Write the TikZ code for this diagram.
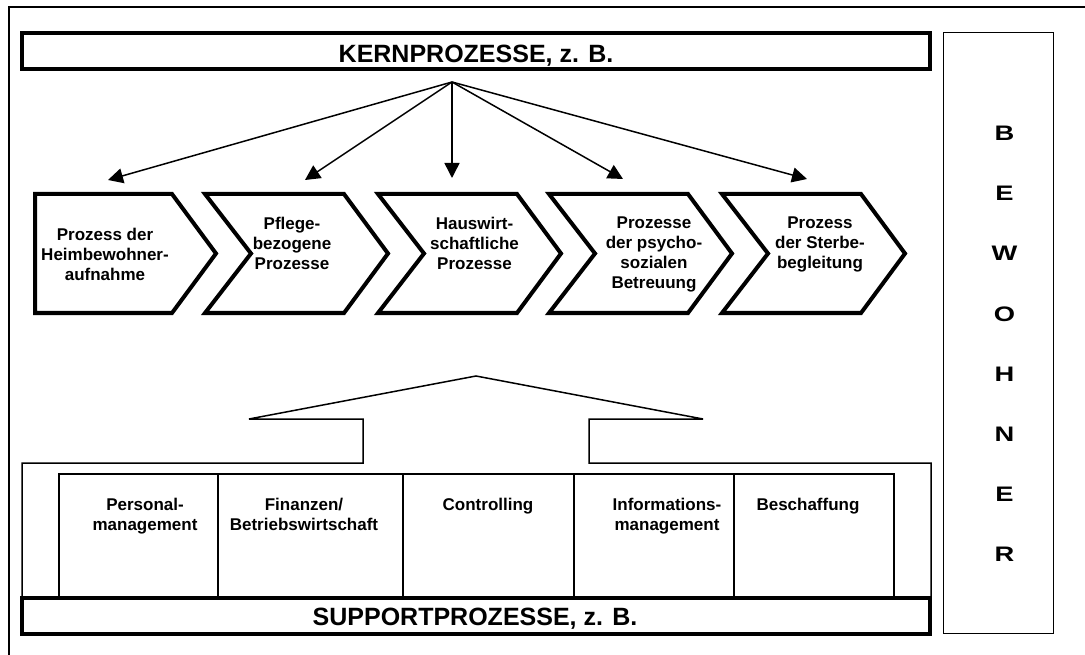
\documentclass[tikz,border=0pt]{standalone}
\usepackage{fontspec}
\setmainfont{Liberation Sans}
\usetikzlibrary{arrows.meta}
\begin{document}
\begin{tikzpicture}[x=1pt,y=-1pt,
  thinline/.style={line width=1.5pt},
  thickline/.style={line width=4pt, line join=miter},
  bar/.style={draw, thickline, fill=white, minimum width=908pt, minimum height=36pt, inner sep=0pt},
  cell/.style={draw, thinline, minimum height=124pt, inner sep=0pt},
  feed/.style={line width=1.5pt, -{Triangle[length=15pt,width=15pt]}},
  proc/.style={font=\bfseries\fontsize{17}{20}\selectfont, align=center, inner sep=0pt, anchor=north},
  heading/.style={font=\bfseries\fontsize{25}{30}\selectfont, inner sep=0pt, anchor=base},
  letter/.style={font=\bfseries\fontsize{21}{24}\selectfont, inner sep=0pt, anchor=base},
]
\useasboundingbox (0,0) rectangle (1085,655);
% page frame (top and left edges)
\draw[thinline] (9,655) -- (9,7) -- (1085,7);

% core processes bar
\node[bar] (kern) at (476,51) {};
\node[heading] (kerntext) at (476,63) {KERNPROZESSE, z. B.};

% residents column
\node[draw, thinline, minimum width=110pt, minimum height=601pt, inner sep=0pt] (bew) at (998.5,333) {};
\foreach \l [count=\i] in {B,E,W,O,H,N,E,R}
  \node[letter] (bw\i) at (1004.5,81+60*\i) {\scalebox{1.3}[1]{\l}};

% process chevrons
\draw[thickline] (35,194) -- (172,194) -- (216,253.5) -- (172,313) -- (35,313) -- cycle;
\foreach \xl in {205,378,549,722}
  \draw[thickline] (\xl,194) -- (\xl+139,194) -- (\xl+183,253.5) -- (\xl+139,313)
                   -- (\xl,313) -- (\xl+46,253.5) -- cycle;

\node[proc] (p1) at (105,226) {\strut Prozess der\\Heimbewohner-\\aufnahme};
\node[proc] (p2) at (292,215) {\strut Pflege-\\bezogene\\Prozesse};
\node[proc] (p3) at (474.5,215) {\strut Hauswirt-\\schaftliche\\Prozesse};
\node[proc] (p4) at (654,214) {\strut Prozesse\\der psycho-\\sozialen\\Betreuung};
\node[proc] (p5) at (820,214) {\strut Prozess\\der Sterbe-\\begleitung};

% arrows fanning out from the core bar
\coordinate (src) at (452,82);
\coordinate (t1) at (108,180);
\coordinate (t2) at (305,180);
\coordinate (t3) at (452,178);
\coordinate (t4) at (623,179);
\coordinate (t5) at (807,179);
\foreach \i in {1,...,5}
  \draw[feed] (src) -- (t\i);

% support block with upward arrow outline
\draw[thinline, line join=miter] (22,598) -- (22,463) -- (363,463) -- (363,419) -- (249,419)
  -- (476,376) -- (703,419) -- (589,419) -- (589,463) -- (931,463) -- (931,598);

\node[cell, minimum width=159pt] (c1) at (138.5,536) {};
\node[cell, minimum width=185pt] (c2) at (310.5,536) {};
\node[cell, minimum width=171pt] (c3) at (488.5,536) {};
\node[cell, minimum width=160pt] (c4) at (654,536) {};
\node[cell, minimum width=160pt] (c5) at (814,536) {};

\node[proc] (s1) at (145,496) {\strut Personal-\\management};
\node[proc] (s2) at (304,496) {\strut Finanzen/\\Betriebswirtschaft};
\node[proc] (s3) at (488,496) {\strut Controlling};
\node[proc] (s4) at (667,496) {\strut Informations-\\management};
\node[proc] (s5) at (808,496) {\strut Beschaffung};

% support processes bar
\node[bar] (support) at (476,616) {};
\node[heading] (supporttext) at (475,625) {SUPPORTPROZESSE, z. B.};
\end{tikzpicture}
\end{document}
